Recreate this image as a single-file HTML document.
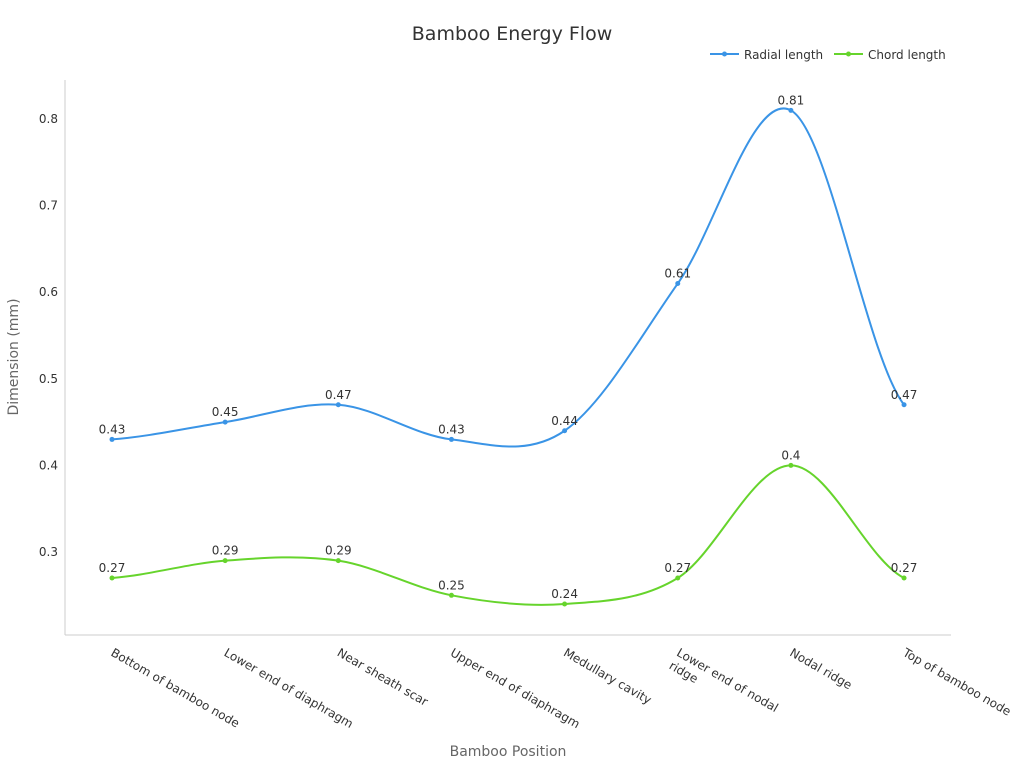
<!DOCTYPE html>
<html><head><meta charset="utf-8"><style>
body{margin:0;background:#fff;font-family:"Liberation Sans","DejaVu Sans",sans-serif}
svg text{font-family:"DejaVu Sans","Liberation Sans",sans-serif}
</style></head><body>
<svg id="chart" width="1024" height="768">
<text x="512" y="40" text-anchor="middle" font-size="19" fill="#333">Bamboo Energy Flow</text>
<g>
<g><line x1="710" y1="54" x2="739" y2="54" stroke="#3a94e6" stroke-width="2"/><circle cx="724.5" cy="54" r="2.5" fill="#3a94e6"/><text x="744" y="59" font-size="12" fill="#333">Radial length</text></g>
<g><line x1="834" y1="54" x2="863" y2="54" stroke="#66d42c" stroke-width="2"/><circle cx="848.5" cy="54" r="2.5" fill="#66d42c"/><text x="868" y="59" font-size="12" fill="#333">Chord length</text></g>
</g>
<line x1="65" y1="80" x2="65" y2="635" stroke="#ccc"/>
<line x1="65" y1="635" x2="951" y2="635" stroke="#ccc"/>
<g id="yticks"></g>
<g id="xticks"></g>
<g id="series"></g>
<text transform="translate(18,357) rotate(-90)" text-anchor="middle" font-size="14" fill="#666">Dimension (mm)</text>
<text x="508" y="756" text-anchor="middle" font-size="14" fill="#666">Bamboo Position</text>
</svg>
<script>
const categories=["Bottom of bamboo node","Lower end of diaphragm","Near sheath scar","Upper end of diaphragm","Medullary cavity","Lower end of nodal\nridge","Nodal ridge","Top of bamboo node"];
const radial=[0.43,0.45,0.47,0.43,0.44,0.61,0.81,0.47];
const chord=[0.27,0.29,0.29,0.25,0.24,0.27,0.4,0.27];
const yTicks=[0.3,0.4,0.5,0.6,0.7,0.8];
const NS="http://www.w3.org/2000/svg";
function y(v){return 552-(v-0.3)*866;}
function x(i){return 112+113.15*i;}
function mk(t,a,p){const e=document.createElementNS(NS,t);for(const k in a)e.setAttribute(k,a[k]);p.appendChild(e);return e;}
const yg=document.getElementById('yticks');
yTicks.forEach(v=>{
 const t=mk('text',{x:58,y:y(v)+4,'text-anchor':'end','font-size':12,fill:'#333'},yg);
 
 
 t.textContent=String(v);
});
const xg=document.getElementById('xticks');
categories.forEach((c,i)=>{
 const t=mk('text',{transform:`translate(${x(i)-2},${655}) rotate(30)`,'font-size':12,fill:'#333'},xg);
 
 
 c.split('\n').forEach((ln,j)=>{const s=mk('tspan',{x:0,dy:j?15:0},t);s.textContent=ln;});
});
function path(vals){
 const p=vals.map((v,i)=>[x(i),y(v)]);const n=p.length;
 const m=p.map((pt,i)=>{
  if(i==0)return (p[1][1]-p[0][1])/(p[1][0]-p[0][0])*0.5;
  if(i==n-1)return (p[n-1][1]-p[n-2][1])/(p[n-1][0]-p[n-2][0])*0.5;
  return (p[i+1][1]-p[i-1][1])/(p[i+1][0]-p[i-1][0]);
 });
 let d=`M${p[0][0]},${p[0][1]}`;
 for(let i=1;i<n;i++){const dx=(p[i][0]-p[i-1][0])/3;
  d+=` C${p[i-1][0]+dx},${p[i-1][1]+m[i-1]*dx} ${p[i][0]-dx},${p[i][1]-m[i]*dx} ${p[i][0]},${p[i][1]}`;}
 return d;
}
const sg=document.getElementById('series');
[[radial,'#3a94e6','radial'],[chord,'#66d42c','chord']].forEach(([vals,col,nm])=>{
 const pth=mk('path',{d:path(vals),fill:'none',stroke:col,'stroke-width':2},sg);
 
 
 vals.forEach((v,i)=>{
  const c=mk('circle',{cx:x(i),cy:y(v),r:2.5,fill:col},sg);
  
  
  const t=mk('text',{x:x(i),y:y(v)-6,'text-anchor':'middle','font-size':12,fill:'#333'},sg);
  
  
  t.textContent=String(v);
 });
});
</script>
</body></html>
